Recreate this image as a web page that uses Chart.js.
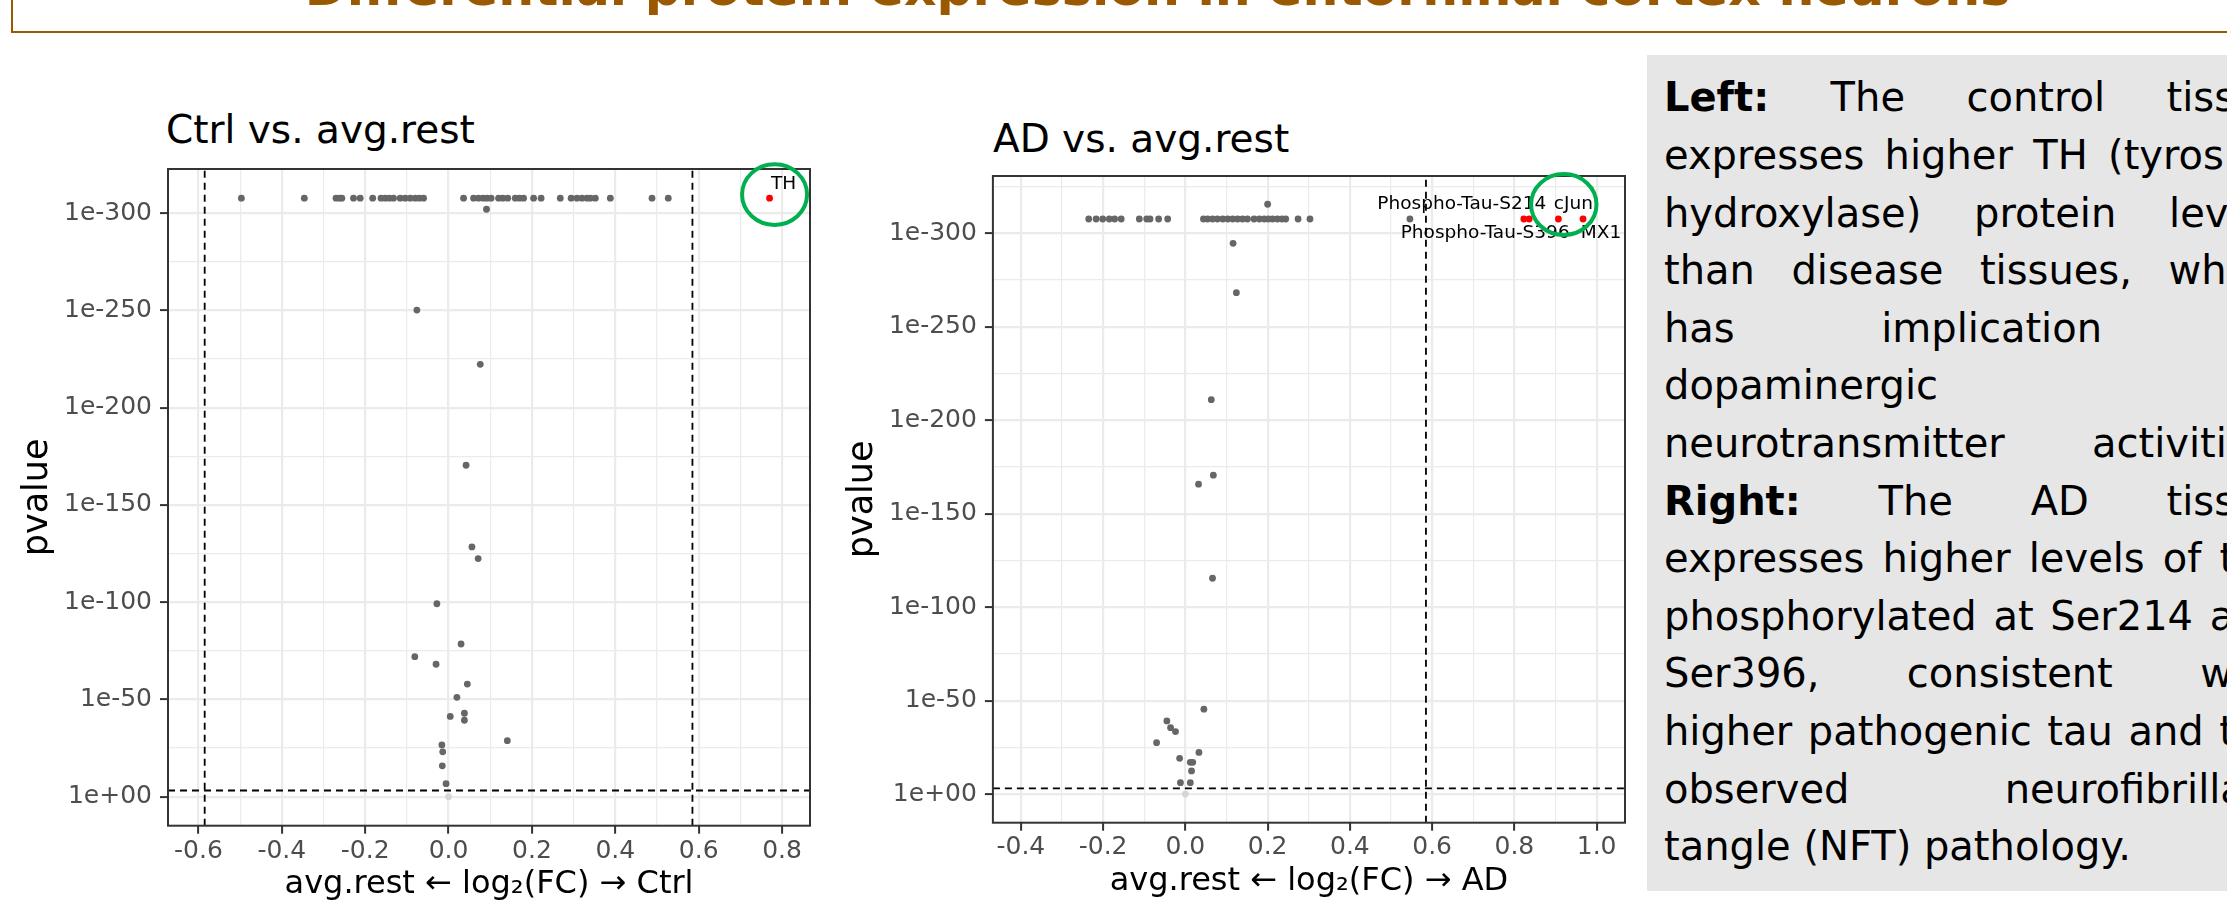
<!DOCTYPE html>
<html>
<head>
<meta charset="utf-8">
<script src="https://cdn.jsdelivr.net/npm/chart.js@4.4.1/dist/chart.umd.min.js"></script>
<style>
  html,body{margin:0;padding:0;}
  body{width:2227px;height:906px;overflow:hidden;position:relative;background:#fff;font-family:'DejaVu Sans',sans-serif;}
  #hdrbox{position:absolute;left:11px;top:-20px;width:2300px;height:53px;box-sizing:border-box;border:2px solid #9a5800;}
  #hdr{position:absolute;left:0;width:2315px;top:-37px;line-height:50px;font-size:50.5px;font-weight:bold;color:#9a5800;text-align:center;white-space:nowrap;}
  .ttl{position:absolute;font-size:39px;line-height:39px;color:#000;white-space:nowrap;}
  .cbox{position:absolute;}
  #note{position:absolute;left:1647px;top:55px;width:700px;height:836px;background:#e7e6e6;box-sizing:border-box;padding:14.4px 0 0 17px;}
  .ln{width:621px;font-size:40px;line-height:57.6px;height:57.6px;color:#000;text-align:justify;text-align-last:justify;}
  .ln.last{text-align-last:left;}
</style>
</head>
<body>
<div id="hdrbox"></div>
<div id="hdr">Differential protein expression in entorhinal cortex neurons</div>

<div class="ttl" style="left:166px;top:110px;">Ctrl vs. avg.rest</div>
<div class="ttl" style="left:993px;top:119px;">AD vs. avg.rest</div>

<div class="cbox" style="left:0px;top:90px;width:840px;height:816px;"><canvas id="ctrlChart"></canvas></div>
<div class="cbox" style="left:842px;top:90px;width:800px;height:816px;"><canvas id="adChart"></canvas></div>

<div id="note">
  <div class="ln"><b>Left:</b> The control tissue</div>
  <div class="ln">expresses higher TH (tyrosine</div>
  <div class="ln">hydroxylase) protein levels</div>
  <div class="ln">than disease tissues, which</div>
  <div class="ln">has implication in</div>
  <div class="ln">dopaminergic</div>
  <div class="ln">neurotransmitter activities.</div>
  <div class="ln"><b>Right:</b> The AD tissue</div>
  <div class="ln">expresses higher levels of tau</div>
  <div class="ln">phosphorylated at Ser214 and</div>
  <div class="ln">Ser396, consistent with</div>
  <div class="ln">higher pathogenic tau and the</div>
  <div class="ln">observed neurofibrillary</div>
  <div class="ln last">tangle (NFT) pathology.</div>
</div>

<script>
// ---------------- DATA ----------------
// thresholds
const FC_THR = 0.585;          // |log2 FC| cut-off
const P_THR = 3.2;             // -log10(p) cut-off

// y tick positions (as -log10 p) and their labels
const yTickValues = [0, 50, 100, 150, 200, 250, 300];
const yTickLabels = ['1e+00', '1e-50', '1e-100', '1e-150', '1e-200', '1e-250', '1e-300'];

// Ctrl vs avg.rest : x = log2FC, y = -log10(pvalue)
const ctrlGrayX = [-0.497, -0.346, -0.270, -0.262, -0.256, -0.228, -0.212, -0.182, -0.162, -0.152,
  -0.142, -0.132, -0.116, -0.104, -0.092, -0.080, -0.070, -0.060, 0.036, 0.060,
  0.072, 0.083, 0.092, 0.102, 0.120, 0.130, 0.142, 0.160, 0.170, 0.180,
  0.204, 0.222, 0.268, 0.294, 0.308, 0.320, 0.332, 0.340, 0.352, 0.388,
  0.488, 0.527,
  0.091, -0.076, 0.076, 0.042, 0.056, 0.071, -0.028, 0.030, -0.081, -0.030,
  0.045, 0.020, 0.004, 0.038, 0.038, 0.141, -0.016, -0.014, -0.015, -0.006];
const ctrlGrayY = [307.7, 307.7, 307.7, 307.7, 307.7, 307.7, 307.7, 307.7, 307.7, 307.7,
  307.7, 307.7, 307.7, 307.7, 307.7, 307.7, 307.7, 307.7, 307.7, 307.7,
  307.7, 307.7, 307.7, 307.7, 307.7, 307.7, 307.7, 307.7, 307.7, 307.7,
  307.7, 307.7, 307.7, 307.7, 307.7, 307.7, 307.7, 307.7, 307.7, 307.7,
  307.7, 307.7,
  302.0, 250.2, 222.3, 170.4, 128.4, 122.4, 99.2, 78.5, 72.0, 68.1,
  57.9, 51.1, 41.3, 42.9, 39.3, 28.8, 26.6, 23.1, 15.9, 6.7];
const ctrlNsX = [0.0];
const ctrlNsY = [0.0];
const ctrlSigNames = ['TH'];
const ctrlSigX = [0.770];
const ctrlSigY = [307.7];
const ctrlXLim = [-0.673, 0.867];
const ctrlYLim = [-14.9, 322.7];

// AD vs avg.rest
const adGrayX = [-0.235, -0.217, -0.201, -0.185, -0.172, -0.156, -0.112, -0.094, -0.086, -0.065,
  -0.043, 0.044, 0.054, 0.066, 0.078, 0.091, 0.103, 0.115, 0.127, 0.139,
  0.151, 0.167, 0.180, 0.192, 0.202, 0.212, 0.224, 0.235, 0.244, 0.274,
  0.303, 0.546,
  0.200, 0.116, 0.124, 0.063, 0.068, 0.032, 0.066, 0.045, -0.045, -0.036,
  -0.024, -0.070, 0.033, -0.014, 0.012, 0.018, 0.015, -0.012, 0.012];
const adGrayY = [307.6, 307.6, 307.6, 307.6, 307.6, 307.6, 307.6, 307.6, 307.6, 307.6,
  307.6, 307.6, 307.6, 307.6, 307.6, 307.6, 307.6, 307.6, 307.6, 307.6,
  307.6, 307.6, 307.6, 307.6, 307.6, 307.6, 307.6, 307.6, 307.6, 307.6,
  307.6, 307.6,
  315.5, 294.6, 268.2, 211.0, 170.6, 165.8, 115.5, 45.5, 39.2, 35.6,
  33.5, 27.6, 22.4, 19.2, 17.1, 17.1, 12.5, 6.2, 6.2];
const adNsX = [0.0];
const adNsY = [0.1];
const adSigNames = ['Phospho-Tau-S214', 'Phospho-Tau-S396', 'cJun', 'MX1'];
const adSigX = [0.823, 0.836, 0.907, 0.967];
const adSigY = [307.6, 307.6, 307.6, 307.6];
const adXLim = [-0.468, 1.069];
const adYLim = [-15.2, 330.6];

// ---------------- STYLE ----------------
const FONT = "'DejaVu Sans'";
Chart.defaults.font.family = FONT;
// text-repel label offsets (pixels from the point)
const labelOffsets = {
  'TH': [14, -14],
  'Phospho-Tau-S214': [-62, -15],
  'Phospho-Tau-S396': [-44, 14],
  'cJun': [15, -15],
  'MX1': [18, 14]
};
// green highlight ring (pixels relative to a point)
const rings = {ctrl: {name: 'TH', dx: 5, dy: -3.6, rx: 32.5, ry: 30.3},
               ad: {name: 'cJun', dx: 5.4, dy: -14.5, rx: 32.7, ry: 30.5}};

const toPts = (xs, ys) => xs.map((x, i) => ({x: x, y: ys[i]}));
const isMajorX = v => Math.round(v * 10) % 2 === 0;
const isMajorY = v => Math.round(v) % 50 === 0;
const fmtX = v => { let s = (Math.round(v * 10) / 10).toFixed(1); return s === '-0.0' ? '0.0' : s; };
const fmtY = v => { const i = yTickValues.indexOf(Math.round(v)); return i >= 0 ? yTickLabels[i] : ''; };

const overlayPlugin = {
  id: 'overlay',
  afterDatasetsDraw(chart, args, opts) {
    const {ctx, chartArea: a, scales} = chart;
    ctx.save();
    // labels
    ctx.font = "18.5px " + FONT;
    ctx.fillStyle = '#000';
    ctx.textAlign = 'center';
    ctx.textBaseline = 'middle';
    opts.names.forEach((n, i) => {
      const px = scales.x.getPixelForValue(opts.xs[i]);
      const py = scales.y.getPixelForValue(opts.ys[i]);
      const o = labelOffsets[n] || [0, -14];
      ctx.fillText(n, px + o[0], py + o[1]);
    });
    // panel border
    ctx.strokeStyle = '#333333';
    ctx.lineWidth = 2;
    ctx.strokeRect(a.left, a.top, a.width, a.height);
    // highlight ring
    const r = opts.ring;
    const k = opts.names.indexOf(r.name);
    if (k >= 0) {
      const px = scales.x.getPixelForValue(opts.xs[k]) + r.dx;
      const py = scales.y.getPixelForValue(opts.ys[k]) + r.dy;
      ctx.beginPath();
      ctx.ellipse(px, py, r.rx, r.ry, 0, 0, Math.PI * 2);
      ctx.strokeStyle = '#00b050';
      ctx.lineWidth = 4;
      ctx.stroke();
    }
    ctx.restore();
  }
};

function makeChart(id, d) {
  const dash = (pts) => ({data: pts, showLine: true, borderColor: '#000', borderWidth: 1.8,
    borderDash: [7, 5], pointRadius: 0, pointHoverRadius: 0, fill: false});
  return new Chart(document.getElementById(id), {
    type: 'scatter',
    data: {
      datasets: [
        {data: toPts(d.nsX, d.nsY), backgroundColor: '#d6d6d6', pointRadius: 3.4, borderWidth: 0},
        {data: toPts(d.grayX, d.grayY), backgroundColor: '#666666', pointRadius: 3.4, borderWidth: 0},
        {data: toPts(d.sigX, d.sigY), backgroundColor: '#ff0000', pointRadius: 3.4, borderWidth: 0},
        dash([{x: -FC_THR, y: d.yLim[0]}, {x: -FC_THR, y: d.yLim[1]}]),
        dash([{x: FC_THR, y: d.yLim[0]}, {x: FC_THR, y: d.yLim[1]}]),
        dash([{x: d.xLim[0], y: P_THR}, {x: d.xLim[1], y: P_THR}])
      ]
    },
    options: {
      responsive: true,
      maintainAspectRatio: false,
      animation: false,
      events: [],
      layout: {padding: d.pad},
      plugins: {
        legend: {display: false},
        tooltip: {enabled: false},
        title: {display: false},
        overlay: {names: d.sigNames, xs: d.sigX, ys: d.sigY, ring: d.ring}
      },
      scales: {
        x: {
          type: 'linear', min: d.xLim[0], max: d.xLim[1],
          border: {display: false},
          grid: {
            color: '#ebebeb',
            lineWidth: c => isMajorX(c.tick.value) ? 2.2 : 1.2,
            tickLength: 8,
            tickWidth: 2,
            tickColor: c => isMajorX(c.tick.value) ? '#333333' : 'rgba(0,0,0,0)'
          },
          ticks: {stepSize: 0.1, includeBounds: false, autoSkip: false, maxRotation: 0,
            color: '#4d4d4d', font: {size: 25}, padding: d.xTickPad,
            callback: v => isMajorX(v) ? fmtX(v) : ''},
          title: {display: true, text: d.xTitle, color: '#000', font: {size: 32},
            padding: {top: 0, bottom: d.xTitlePad}},
          afterFit: s => { s.height = d.xAxisH; }
        },
        y: {
          type: 'linear', min: d.yLim[0], max: d.yLim[1],
          border: {display: false},
          grid: {
            color: '#ebebeb',
            lineWidth: c => isMajorY(c.tick.value) ? 2.2 : 1.2,
            tickLength: 8,
            tickWidth: 2,
            tickColor: c => isMajorY(c.tick.value) ? '#333333' : 'rgba(0,0,0,0)'
          },
          ticks: {stepSize: 25, includeBounds: false, autoSkip: false,
            color: '#4d4d4d', font: {size: 25}, padding: 8,
            callback: v => isMajorY(v) ? fmtY(v) : ''},
          title: {display: true, text: 'pvalue', color: '#000', font: {size: 35},
            padding: {top: d.yTitlePad, bottom: 0}},
          afterFit: s => { s.width = d.yAxisW; }
        }
      }
    },
    plugins: [overlayPlugin]
  });
}

makeChart('ctrlChart', {
  grayX: ctrlGrayX, grayY: ctrlGrayY, nsX: ctrlNsX, nsY: ctrlNsY,
  sigX: ctrlSigX, sigY: ctrlSigY, sigNames: ctrlSigNames,
  xLim: ctrlXLim, yLim: ctrlYLim, ring: rings.ctrl,
  xTitle: 'avg.rest \u2190 log\u2082(FC) \u2192 Ctrl',
  pad: {left: 0, right: 30, top: 79, bottom: 0},
  yAxisW: 168, xAxisH: 80.3, xTickPad: 3.2, xTitlePad: 2.2, yTitlePad: 17
});

makeChart('adChart', {
  grayX: adGrayX, grayY: adGrayY, nsX: adNsX, nsY: adNsY,
  sigX: adSigX, sigY: adSigY, sigNames: adSigNames,
  xLim: adXLim, yLim: adYLim, ring: rings.ad,
  xTitle: 'avg.rest \u2190 log\u2082(FC) \u2192 AD',
  pad: {left: 0, right: 17, top: 86, bottom: 0},
  yAxisW: 150.9, xAxisH: 83.3, xTickPad: 1.7, xTitlePad: 4.9, yTitlePad: 0
});
</script>
</body>
</html>
